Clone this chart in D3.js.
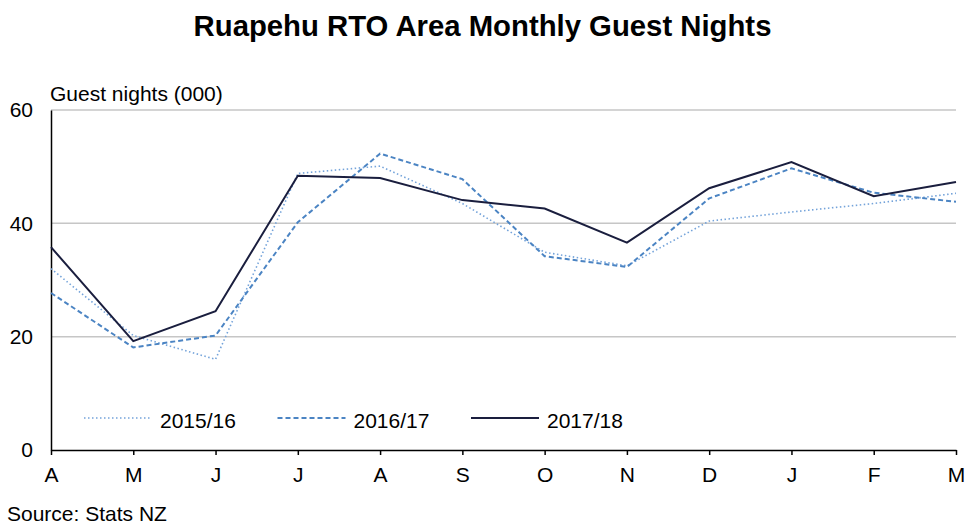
<!DOCTYPE html>
<html>
<head>
<meta charset="utf-8">
<script src="https://cdn.jsdelivr.net/npm/d3@7"></script>
<style>
  body { margin: 0; background: #fff; }
  svg { display: block; font-family: 'Liberation Sans', Arial, sans-serif; }
</style>
</head>
<body>
<div id="chart"></div>
<script>
let months = ['A', 'M', 'J', 'J', 'A', 'S', 'O', 'N', 'D', 'J', 'F', 'M'];
let yTicks = [0, 20, 40, 60];
let seriesNames = ['2015/16', '2016/17', '2017/18'];
let values1516 = [32.0, 20.2, 16.0, 48.8, 50.1, 43.5, 34.9, 32.5, 40.4, 42.0, 43.5, 45.3];
let values1617 = [27.7, 18.1, 20.2, 40.2, 52.3, 47.8, 34.2, 32.3, 44.4, 49.7, 45.4, 43.8];
let values1718 = [35.8, 19.2, 24.5, 48.4, 48.0, 44.1, 42.6, 36.6, 46.2, 50.8, 44.8, 47.3];

document.addEventListener('DOMContentLoaded', function() {
  let w = 965;
  let h = 527;
  let left = 51, right = 956, top = 110, bottom = 450;

  // styles for each series: dotted, dashed, solid
  let styles = [
    {color: '#74a3da', width: 1.6, dash: '1.5,2.5'},
    {color: '#4b84c3', width: 2, dash: '5,3'},
    {color: '#1a1e3e', width: 2, dash: null}
  ];
  let series = [values1516, values1617, values1718];

  let xScale = d3.scalePoint()
                 .domain(d3.range(months.length))
                 .range([left, right]);
  let yScale = d3.scaleLinear()
                 .domain([0, 60])
                 .range([bottom, top]);

  let svg = d3.select('#chart')
              .append('svg')
              .attr('width', w)
              .attr('height', h);

  svg.append('text')
     .attr('x', w / 2)
     .attr('y', 36)
     .attr('text-anchor', 'middle')
     .style('font-size', '29.3px')
     .style('font-weight', 'bold')
     .text('Ruapehu RTO Area Monthly Guest Nights');

  svg.append('text')
     .attr('x', 50)
     .attr('y', 101)
     .style('font-size', '21px')
     .text('Guest nights (000)');

  // gridlines
  svg.append('g')
     .selectAll('line')
     .data(yTicks.filter((d) => d > 0))
     .enter()
     .append('line')
     .attr('x1', left)
     .attr('x2', right)
     .attr('y1', (d) => yScale(d))
     .attr('y2', (d) => yScale(d))
     .attr('stroke', '#c6c6c6')
     .attr('stroke-width', 1.5);

  let yAxis = d3.axisLeft(yScale).tickValues(yTicks).tickSize(0).tickPadding(18);
  let yG = svg.append('g')
              .attr('transform', 'translate(' + left + ', 0)')
              .call(yAxis);
  yG.select('.domain').attr('stroke', '#000').attr('stroke-width', 1.5);
  yG.selectAll('text').style('font-size', '21px').style('font-family', 'Liberation Sans, Arial, sans-serif').attr('fill', '#000');

  let xAxis = d3.axisBottom(xScale).tickFormat((d) => months[d]).tickSizeInner(5).tickSizeOuter(0).tickPadding(12);
  let xG = svg.append('g')
              .attr('transform', 'translate(0, ' + bottom + ')')
              .call(xAxis);
  xG.select('.domain').attr('stroke', '#000').attr('stroke-width', 1.5);
  xG.selectAll('line').attr('stroke', '#000').attr('stroke-width', 1.5);
  xG.selectAll('text').style('font-size', '21px').style('font-family', 'Liberation Sans, Arial, sans-serif').attr('fill', '#000');

  let line = d3.line()
               .x((d, i) => xScale(i))
               .y((d) => yScale(d));

  svg.append('g')
     .selectAll('path')
     .data(series)
     .enter()
     .append('path')
     .attr('d', line)
     .attr('fill', 'none')
     .attr('stroke', (d, i) => styles[i].color)
     .attr('stroke-width', (d, i) => styles[i].width)
     .attr('stroke-dasharray', (d, i) => styles[i].dash)
     .attr('stroke-linejoin', 'miter');

  // legend
  let legend = svg.append('g');
  let item = legend.selectAll('g')
                   .data(seriesNames)
                   .enter()
                   .append('g')
                   .attr('transform', (d, i) => 'translate(' + (84 + i * 193.5) + ', 418)');
  item.append('line')
      .attr('x1', 0)
      .attr('x2', 68)
      .attr('stroke', (d, i) => styles[i].color)
      .attr('stroke-width', (d, i) => styles[i].width)
      .attr('stroke-dasharray', (d, i) => styles[i].dash);
  item.append('text')
      .attr('x', 76)
      .attr('y', 10)
      .style('font-size', '21px')
      .text((d) => d);

  svg.append('text')
     .attr('x', 7)
     .attr('y', 521)
     .style('font-size', '21px')
     .text('Source: Stats NZ');
});
</script>
</body>
</html>
